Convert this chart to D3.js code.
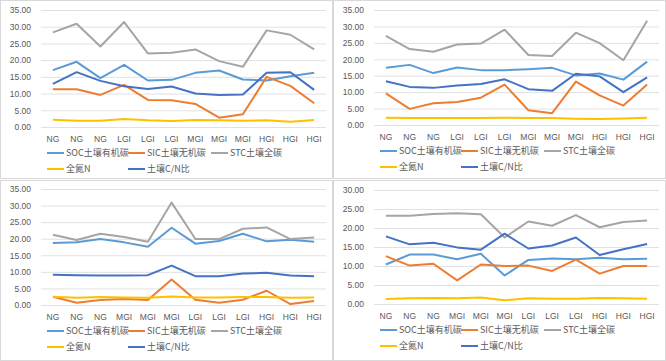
<!DOCTYPE html>
<html>
<head>
<meta charset="utf-8">
<script src="https://cdn.jsdelivr.net/npm/d3@7"></script>
<style>
  body { margin: 0; background: #fff; }
  svg { display: block; font-family: "Noto Sans CJK SC", "Liberation Sans", sans-serif; }
</style>
</head>
<body>
<svg id="chart"></svg>
<script>
// series names / colours (legend order)
const seriesNames = ['SOC土壤有机碳', 'SIC土壤无机碳', 'STC土壤全碳', '全氮N', '土壤C/N比'];
const seriesColors = ['#5b9bd5', '#ed7d31', '#a5a5a5', '#ffc000', '#4472c4'];

// categories
const catsA = ['NG', 'NG', 'NG', 'LGI', 'LGI', 'LGI', 'MGI', 'MGI', 'MGI', 'HGI', 'HGI', 'HGI'];
const catsB = ['NG', 'NG', 'NG', 'MGI', 'MGI', 'MGI', 'LGI', 'LGI', 'LGI', 'HGI', 'HGI', 'HGI'];

// y ticks
const ticks35 = [0, 5, 10, 15, 20, 25, 30, 35];
const ticks30 = [0, 5, 10, 15, 20, 25, 30];

// panel 1 (top left)
const p1SOC = [17.0, 19.5, 14.6, 18.6, 13.9, 14.1, 16.2, 16.9, 14.2, 13.9, 15.2, 16.2];
const p1SIC = [11.3, 11.3, 9.6, 12.6, 8.1, 8.0, 6.9, 2.8, 3.8, 15.0, 12.3, 7.1];
const p1STC = [28.3, 30.9, 24.1, 31.4, 22.0, 22.2, 23.2, 19.7, 18.0, 28.9, 27.6, 23.2];
const p1N   = [2.2, 1.9, 1.9, 2.4, 2.0, 1.8, 2.1, 2.0, 1.9, 2.0, 1.6, 2.1];
const p1CN  = [12.9, 16.4, 13.8, 12.2, 11.4, 12.1, 10.0, 9.6, 9.7, 16.2, 16.4, 11.1];

// panel 2 (top right)
const p2SOC = [17.4, 18.3, 15.8, 17.5, 16.7, 16.7, 17.0, 17.4, 15.1, 15.7, 13.8, 19.3];
const p2SIC = [9.6, 4.9, 6.6, 7.0, 8.3, 12.3, 4.5, 3.6, 13.2, 9.0, 5.9, 12.3];
const p2STC = [27.1, 23.1, 22.3, 24.5, 24.8, 29.0, 21.3, 21.0, 28.1, 24.9, 19.7, 31.7];
const p2N   = [2.2, 2.1, 2.1, 2.1, 2.1, 2.2, 2.1, 2.1, 1.9, 1.8, 2.0, 2.2];
const p2CN  = [13.3, 11.6, 11.3, 12.0, 12.5, 13.9, 10.9, 10.4, 15.6, 14.8, 10.0, 14.5];

// panel 3 (bottom left)
const p3SOC = [18.7, 18.9, 19.9, 18.9, 17.6, 23.3, 18.5, 19.3, 21.5, 19.2, 19.7, 19.1];
const p3SIC = [2.5, 0.7, 1.5, 1.8, 1.5, 7.7, 1.6, 0.7, 1.6, 4.3, 0.3, 1.2];
const p3STC = [21.2, 19.6, 21.5, 20.5, 19.1, 30.9, 19.9, 19.9, 23.0, 23.4, 19.9, 20.4];
const p3N   = [2.5, 2.2, 2.4, 2.3, 2.2, 2.6, 2.3, 2.3, 2.4, 2.4, 2.2, 2.3];
const p3CN  = [9.1, 9.0, 8.9, 8.9, 9.0, 11.9, 8.7, 8.7, 9.5, 9.7, 8.9, 8.7];

// panel 4 (bottom right)
const p4SOC = [10.4, 13.0, 13.0, 11.8, 13.2, 7.5, 11.6, 12.0, 11.8, 12.2, 11.8, 11.9];
const p4SIC = [12.6, 10.1, 10.6, 6.2, 10.4, 10.0, 10.1, 8.7, 11.7, 8.0, 10.0, 10.0];
const p4STC = [23.2, 23.2, 23.7, 23.9, 23.6, 17.5, 21.7, 20.6, 23.4, 20.2, 21.6, 22.0];
const p4N   = [1.3, 1.5, 1.6, 1.5, 1.7, 1.0, 1.5, 1.4, 1.4, 1.6, 1.5, 1.4];
const p4CN  = [17.8, 15.7, 16.1, 14.9, 14.3, 18.5, 14.6, 15.4, 17.5, 12.9, 14.4, 15.8];

const W = 666, H = 361;
const svg = d3.select('#chart').attr('width', W).attr('height', H);

const panels = [
  { x: 0,   y: 0,   w: 333, h: 179, top: 10, bottom: 127, ymax: 35, ticks: ticks35, cats: catsA,
    series: [p1SOC, p1SIC, p1STC, p1N, p1CN] },
  { x: 333, y: 0,   w: 333, h: 179, top: 10, bottom: 125, ymax: 35, ticks: ticks35, cats: catsA,
    series: [p2SOC, p2SIC, p2STC, p2N, p2CN] },
  { x: 0,   y: 180, w: 333, h: 181, top: 9,  bottom: 125, ymax: 35, ticks: ticks35, cats: catsB,
    series: [p3SOC, p3SIC, p3STC, p3N, p3CN] },
  { x: 333, y: 180, w: 333, h: 181, top: 10, bottom: 124, ymax: 30, ticks: ticks30, cats: catsB,
    series: [p4SOC, p4SIC, p4STC, p4N, p4CN] }
];

function drawPanel(p) {
  const g = svg.append('g').attr('transform', `translate(${p.x}, ${p.y})`);

  g.append('rect')
    .attr('x', 0.5).attr('y', 0.5)
    .attr('width', p.w - 1).attr('height', p.h - 1)
    .attr('fill', '#fff')
    .attr('stroke', '#d9d9d9');

  const left = 41, right = 326;
  const x = d3.scaleBand().domain(d3.range(p.cats.length)).range([left, right]);
  const y = d3.scaleLinear().domain([0, p.ymax]).range([p.bottom, p.top]);

  // gridlines + y labels
  const yaxis = d3.axisLeft(y)
    .tickValues(p.ticks)
    .tickSize(-(right - left))
    .tickPadding(10)
    .tickFormat(d3.format('.2f'));
  const ya = g.append('g').attr('transform', `translate(${left}, 0)`).call(yaxis);
  ya.select('.domain').remove();
  ya.selectAll('.tick line').attr('stroke', '#d9d9d9').attr('stroke-width', 0.8);
  ya.selectAll('.tick text').attr('fill', '#595959').attr('font-size', 8.5)
    .attr('font-family', 'Liberation Sans, sans-serif');

  // x labels
  const xaxis = d3.axisBottom(x).tickSize(0).tickPadding(9)
    .tickFormat(i => p.cats[i]);
  const xa = g.append('g').attr('transform', `translate(0, ${p.bottom})`).call(xaxis);
  xa.select('.domain').remove();
  xa.selectAll('.tick text').attr('fill', '#595959').attr('font-size', 8.5)
    .attr('font-family', 'Liberation Sans, sans-serif');

  // lines
  const line = d3.line()
    .x((d, i) => x(i) + x.bandwidth() / 2)
    .y(d => y(d));
  p.series.forEach((s, k) => {
    g.append('path')
      .datum(s)
      .attr('fill', 'none')
      .attr('stroke', seriesColors[k])
      .attr('stroke-width', 2)
      .attr('stroke-linejoin', 'round')
      .attr('d', line);
  });

  // legend
  const legPos = [[47, 0], [128, 0], [211, 0], [47, 1], [128, 1]];
  seriesNames.forEach((name, k) => {
    const lx = legPos[k][0];
    const ly = p.bottom + 26 + legPos[k][1] * 16;
    g.append('line')
      .attr('x1', lx).attr('x2', lx + 17)
      .attr('y1', ly).attr('y2', ly)
      .attr('stroke', seriesColors[k]).attr('stroke-width', 2);
    g.append('text')
      .attr('x', lx + 19).attr('y', ly)
      .attr('dy', '0.35em')
      .attr('font-size', 9)
      .attr('fill', '#595959')
      .text(name);
  });
}

panels.forEach(drawPanel);
</script>
</body>
</html>
